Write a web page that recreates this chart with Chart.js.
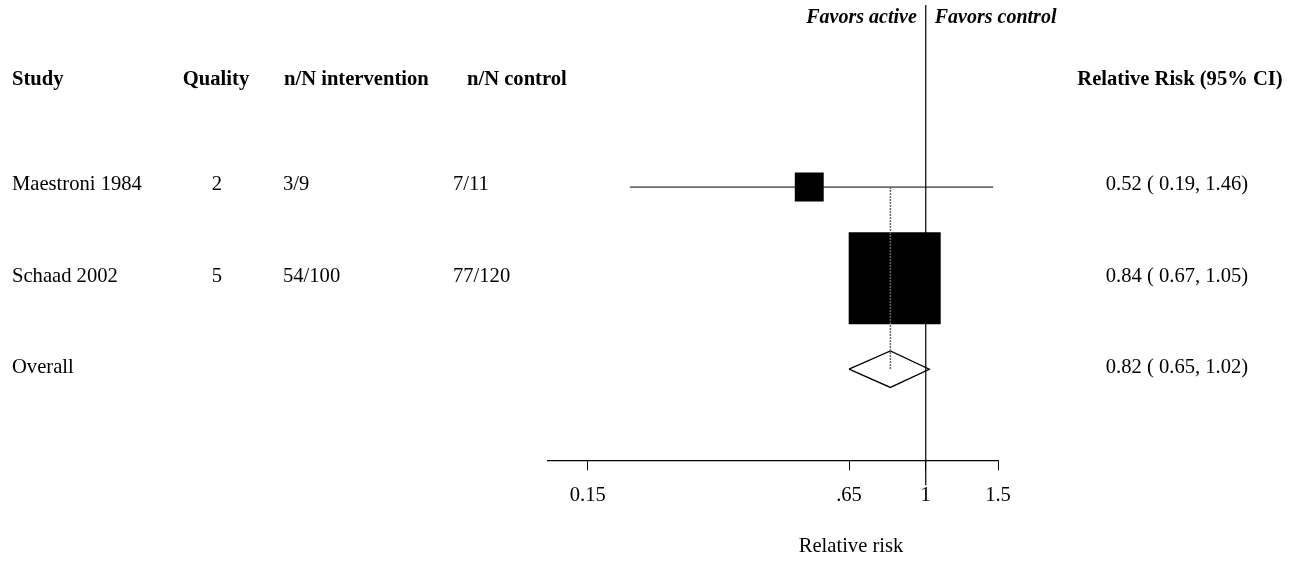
<!DOCTYPE html>
<html>
<head>
<meta charset="utf-8">
<script src="https://cdn.jsdelivr.net/npm/chart.js@4/dist/chart.umd.min.js"></script>
<style>
    body { margin: 0; background: #fff; }
    #wrap { width: 1297px; height: 565px; }
</style>
</head>
<body>
<div id="wrap"><canvas id="myChart" width="1297" height="565"></canvas></div>
<script>
const studies = ['Maestroni 1984', 'Schaad 2002'];
const quality = ['2', '5'];
const nIntervention = ['3/9', '54/100'];
const nControl = ['7/11', '77/120'];
const rr = [0.52, 0.84];
const ciLow = [0.19, 0.67];
const ciHigh = [1.46, 1.05];
const weights = [9, 91];

const overallLabel = 'Overall';
const overallRR = 0.82;
const overallLow = 0.65;
const overallHigh = 1.02;

const headers = ['Study', 'Quality', 'n/N intervention', 'n/N control', 'Relative Risk (95% CI)'];
const tickValues = [0.15, 0.65, 1, 1.5];
const tickLabels = ['0.15', '.65', '1', '1.5'];
const axisTitle = 'Relative risk';
const favorsLeft = 'Favors active';
const favorsRight = 'Favors control';

const serif = '"Liberation Serif", "Times New Roman", serif';
const maxSide = 92;
const maxW = Math.max(...weights);

function fmt(v) {
    return v.toFixed(2);
}

const ciText = rr.map((v, i) => fmt(v) + ' ( ' + fmt(ciLow[i]) + ', ' + fmt(ciHigh[i]) + ')');
const overallText = fmt(overallRR) + ' ( ' + fmt(overallLow) + ', ' + fmt(overallHigh) + ')';

const ciLines = rr.map((v, i) => ({
    data: [{x: ciLow[i], y: i + 1}, {x: ciHigh[i], y: i + 1}],
    showLine: true,
    borderColor: '#000',
    borderWidth: 1,
    pointRadius: 0,
    order: 3
}));

const squares = {
    data: rr.map((v, i) => ({x: v, y: i + 1})),
    pointStyle: 'rect',
    pointRadius: weights.map(w => maxSide * Math.sqrt(w / maxW) / Math.SQRT2),
    backgroundColor: '#000',
    borderColor: '#000',
    borderWidth: 0,
    showLine: false,
    order: 1
};

const dh = 0.2;
const diamond = {
    data: [
        {x: overallLow, y: 3},
        {x: overallRR, y: 3 - dh},
        {x: overallHigh, y: 3},
        {x: overallRR, y: 3 + dh},
        {x: overallLow, y: 3}
    ],
    showLine: true,
    tension: 0,
    borderColor: '#000',
    borderWidth: 1.3,
    pointRadius: 0,
    fill: false,
    order: 2
};

const overallDots = {
    data: [{x: overallRR, y: 1}, {x: overallRR, y: 3}],
    showLine: true,
    borderColor: '#666',
    borderWidth: 1.5,
    borderDash: [2, 1],
    pointRadius: 0,
    order: 0
};

const textPlugin = {
    id: 'forestText',
    beforeDatasetsDraw(chart) {
        const {ctx, scales: {x, y}, chartArea} = chart;
        const px = x.getPixelForValue(1);
        ctx.save();
        ctx.strokeStyle = '#000';
        ctx.lineWidth = 1.2;
        ctx.beginPath();
        ctx.moveTo(px, y.getPixelForValue(-1));
        ctx.lineTo(px, chartArea.bottom + 25);
        ctx.stroke();
        ctx.restore();
    },
    afterDraw(chart) {
        const {ctx, scales: {x, y}} = chart;
        const px1 = x.getPixelForValue(1);
        ctx.save();
        ctx.fillStyle = '#000';
        ctx.textBaseline = 'middle';

        ctx.font = 'italic bold 20px ' + serif;
        ctx.textAlign = 'right';
        ctx.fillText(favorsLeft, px1 - 9, 18);
        ctx.textAlign = 'left';
        ctx.fillText(favorsRight, px1 + 9, 18);

        const hy = 80;
        ctx.font = 'bold 20.6px ' + serif;
        ctx.textAlign = 'left';
        ctx.fillText(headers[0], 12, hy);
        ctx.textAlign = 'center';
        ctx.fillText(headers[1], 216, hy);
        ctx.textAlign = 'left';
        ctx.fillText(headers[2], 284, hy);
        ctx.fillText(headers[3], 467, hy);
        ctx.textAlign = 'center';
        ctx.fillText(headers[4], 1180, hy);

        ctx.font = '20.6px ' + serif;
        studies.forEach((s, i) => {
            const ry = y.getPixelForValue(i + 1) - 2;
            ctx.textAlign = 'left';
            ctx.fillText(s, 12, ry);
            ctx.textAlign = 'center';
            ctx.fillText(quality[i], 217, ry);
            ctx.textAlign = 'left';
            ctx.fillText(nIntervention[i], 283, ry);
            ctx.fillText(nControl[i], 453, ry);
            ctx.textAlign = 'center';
            ctx.fillText(ciText[i], 1177, ry);
        });
        const oy = y.getPixelForValue(3) - 2;
        ctx.textAlign = 'left';
        ctx.fillText(overallLabel, 12, oy);
        ctx.textAlign = 'center';
        ctx.fillText(overallText, 1177, oy);

        ctx.fillText(axisTitle, 851, 547);
        ctx.restore();
    }
};

const ctx = document.getElementById('myChart');

new Chart(ctx, {
    type: 'scatter',
    data: {
        datasets: [overallDots, squares, diamond, ...ciLines]
    },
    options: {
        responsive: false,
        animation: false,
        events: [],
        layout: {
            padding: {left: 548, right: 299, top: 5, bottom: 44}
        },
        plugins: {
            legend: {display: false},
            tooltip: {enabled: false}
        },
        scales: {
            x: {
                type: 'logarithmic',
                min: 0.12,
                max: 1.5,
                afterBuildTicks: (scale) => {
                    scale.ticks = tickValues.map(v => ({value: v}));
                },
                grid: {
                    drawOnChartArea: false,
                    drawTicks: true,
                    tickLength: 10,
                    color: '#000'
                },
                border: {display: true, color: '#000', width: 1.2},
                ticks: {
                    autoSkip: false,
                    maxRotation: 0,
                    padding: 13,
                    color: '#000',
                    font: {family: serif, size: 20.6},
                    callback: function(val, index) {
                        return tickLabels[index];
                    }
                }
            },
            y: {
                type: 'linear',
                min: -0.34,
                max: 4,
                reverse: true,
                display: false
            }
        }
    },
    plugins: [textPlugin]
});
</script>
</body>
</html>
